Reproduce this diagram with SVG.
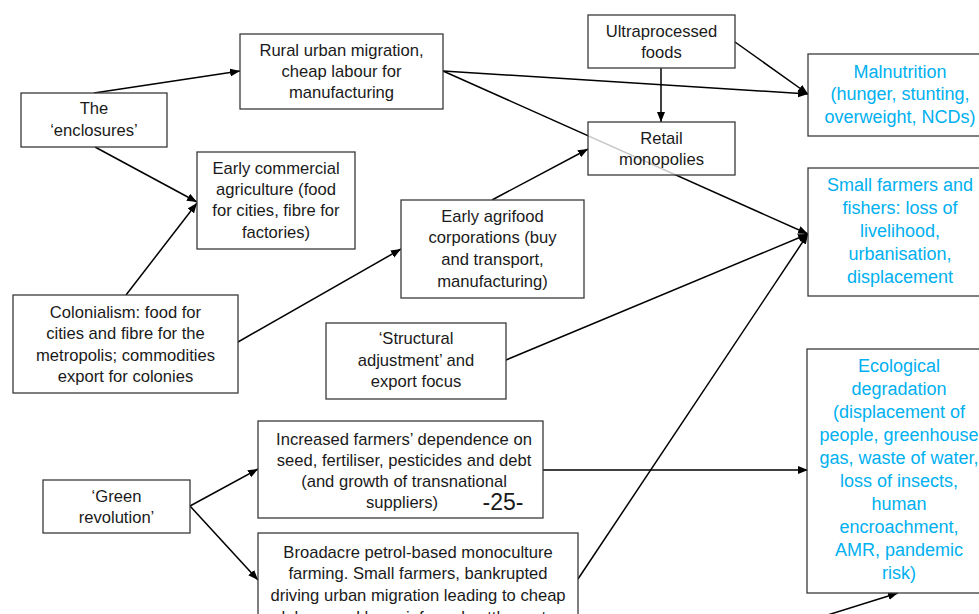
<svg xmlns="http://www.w3.org/2000/svg" width="979" height="614" viewBox="0 0 979 614">
<style>
.box{fill:#fff;fill-opacity:0.78;stroke:#3a3a3a;stroke-width:1.3}
.t{font-family:"Liberation Sans",Arial,sans-serif;font-size:16.6px;fill:#1a1a1a;text-anchor:middle}
.b{font-family:"Liberation Sans",Arial,sans-serif;font-size:18px;fill:#00b0f0;text-anchor:middle}
.c{fill:none;stroke:#000;stroke-width:1.5;marker-end:url(#ah)}
</style>
<defs>
<marker id="ah" markerUnits="userSpaceOnUse" markerWidth="11" markerHeight="9" refX="10" refY="4" orient="auto">
<path d="M0,0 L10,4 L0,8 z" fill="#000"/>
</marker>
</defs>
<rect width="979" height="614" fill="#fff"/>
<g id="connectors">
<path class="c" d="M94,93 L240,71"/>
<path class="c" d="M95,147 L197,202"/>
<path class="c" d="M126,295 L197,203"/>
<path class="c" d="M238,342 L401,249"/>
<path class="c" d="M492,200 L588,149"/>
<path class="c" d="M661,68 L661,122"/>
<path class="c" d="M735,42 L808,94"/>
<path class="c" d="M443,71 L808,94"/>
<path class="c" d="M443,71 L808,234"/>
<path class="c" d="M506,360 L808,234"/>
<path class="c" d="M578,579 L808,234"/>
<path class="c" d="M190,506 L258,469"/>
<path class="c" d="M190,506 L258,580"/>
<path class="c" d="M543,470 L808,470"/>
<path class="c" d="M818,618 L898,593"/>
</g>
<g id="enclosures">
<rect class="box" x="21" y="93" width="146" height="54"/>
<text class="t" x="94" y="114">The</text>
<text class="t" x="94" y="136">‘enclosures’</text>
</g>
<g id="rural-migration">
<rect class="box" x="240" y="34" width="203" height="75"/>
<text class="t" x="341.5" y="56">Rural urban migration,</text>
<text class="t" x="341.5" y="77">cheap labour for</text>
<text class="t" x="341.5" y="98">manufacturing</text>
</g>
<g id="early-commercial">
<rect class="box" x="197" y="152" width="158" height="97"/>
<text class="t" x="276" y="174">Early commercial</text>
<text class="t" x="276" y="195">agriculture (food</text>
<text class="t" x="276" y="216">for cities, fibre for</text>
<text class="t" x="276" y="238">factories)</text>
</g>
<g id="colonialism">
<rect class="box" x="13" y="295" width="225" height="98"/>
<text class="t" x="125.5" y="318">Colonialism: food for</text>
<text class="t" x="125.5" y="339">cities and fibre for the</text>
<text class="t" x="125.5" y="361">metropolis; commodities</text>
<text class="t" x="125.5" y="382">export for colonies</text>
</g>
<g id="agrifood">
<rect class="box" x="401" y="200" width="183" height="98"/>
<text class="t" x="492.5" y="222">Early agrifood</text>
<text class="t" x="492.5" y="243">corporations (buy</text>
<text class="t" x="492.5" y="265">and transport,</text>
<text class="t" x="492.5" y="287">manufacturing)</text>
</g>
<g id="ultraprocessed">
<rect class="box" x="588" y="15" width="147" height="53"/>
<text class="t" x="661.5" y="37">Ultraprocessed</text>
<text class="t" x="661.5" y="58">foods</text>
</g>
<g id="retail">
<rect class="box" x="588" y="122" width="147" height="53"/>
<text class="t" x="661.5" y="144">Retail</text>
<text class="t" x="661.5" y="165">monopolies</text>
</g>
<g id="structural">
<rect class="box" x="326" y="323" width="180" height="76"/>
<text class="t" x="416" y="344">‘Structural</text>
<text class="t" x="416" y="366">adjustment’ and</text>
<text class="t" x="416" y="387">export focus</text>
</g>
<g id="green-revolution">
<rect class="box" x="43" y="480" width="147" height="53"/>
<text class="t" x="116.5" y="502">‘Green</text>
<text class="t" x="116.5" y="523">revolution’</text>
</g>
<g id="dependence">
<rect class="box" x="258" y="421" width="285" height="97"/>
<text class="t" x="404" y="445">Increased farmers’ dependence on</text>
<text class="t" x="404" y="466">seed, fertiliser, pesticides and debt</text>
<text class="t" x="404" y="487">(and growth of transnational</text>
<text class="t" x="402" y="508">suppliers)</text>
<text class="t" x="503" y="510" style="font-size:23px">-25-</text>
</g>
<g id="broadacre">
<rect class="box" x="258" y="533" width="320" height="95"/>
<text class="t" x="418" y="558">Broadacre petrol-based monoculture</text>
<text class="t" x="418" y="579">farming. Small farmers, bankrupted</text>
<text class="t" x="418" y="601">driving urban migration leading to cheap</text>
<text class="t" x="418" y="623">labour and large informal settlements</text>
</g>
<g id="malnutrition">
<rect class="box" x="808" y="54" width="185" height="82"/>
<text class="b" x="900" y="78">Malnutrition</text>
<text class="b" x="900" y="100">(hunger, stunting,</text>
<text class="b" x="900" y="123">overweight, NCDs)</text>
</g>
<g id="small-farmers">
<rect class="box" x="808" y="168" width="185" height="128"/>
<text class="b" x="900" y="191">Small farmers and</text>
<text class="b" x="900" y="214">fishers: loss of</text>
<text class="b" x="900" y="237">livelihood,</text>
<text class="b" x="900" y="260">urbanisation,</text>
<text class="b" x="900" y="283">displacement</text>
</g>
<g id="ecological">
<rect class="box" x="807" y="349" width="190" height="244"/>
<text class="b" x="899" y="372">Ecological</text>
<text class="b" x="899" y="395">degradation</text>
<text class="b" x="899" y="418">(displacement of</text>
<text class="b" x="899" y="441">people, greenhouse</text>
<text class="b" x="899" y="464">gas, waste of water,</text>
<text class="b" x="899" y="487">loss of insects,</text>
<text class="b" x="899" y="510">human</text>
<text class="b" x="899" y="533">encroachment,</text>
<text class="b" x="899" y="556">AMR, pandemic</text>
<text class="b" x="899" y="579">risk)</text>
</g>
</svg>
